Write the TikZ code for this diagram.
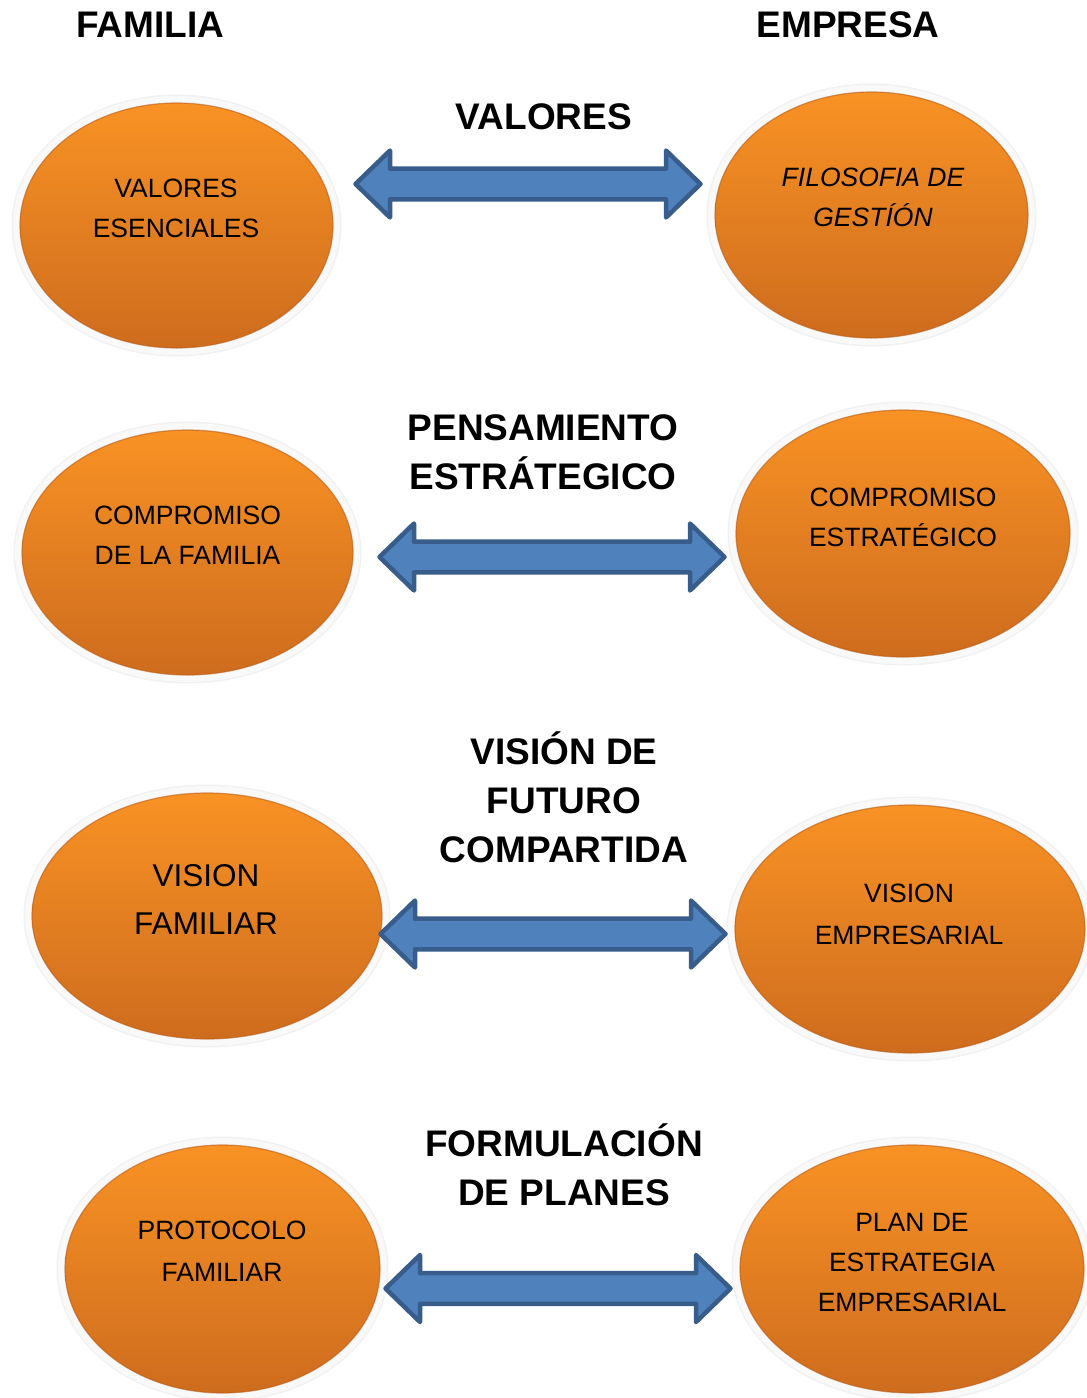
\documentclass[tikz,border=0pt]{standalone}
\usepackage{fontspec}
\setmainfont{Liberation Sans}
\usetikzlibrary{shapes.geometric,calc}
\definecolor{orTop}{RGB}{248,146,36}
\definecolor{orBot}{RGB}{206,108,30}
\definecolor{orRim}{RGB}{185,92,24}
\definecolor{arFill}{RGB}{79,129,189}
\definecolor{arLine}{RGB}{56,93,138}
\newcommand\dblarrow[2]{%
  \draw[blockarrow] (#1) -- ($(#1)+(34.5,-33.5)$) -- ($(#1)+(34.5,-15.3)$)
    -- ($(#2)+(-34.5,-15.3)$) -- ($(#2)+(-34.5,-33.5)$) -- (#2)
    -- ($(#2)+(-34.5,33.5)$) -- ($(#2)+(-34.5,15.3)$)
    -- ($(#1)+(34.5,15.3)$) -- ($(#1)+(34.5,33.5)$) -- cycle;}
\begin{document}
\begin{tikzpicture}[x=1pt,y=-1pt,
  ellip/.style={ellipse, inner sep=0pt, top color=orTop, bottom color=orBot,
    draw=orRim, draw opacity=0.6, line width=1.2pt,
    preaction={draw=black!9, line width=17pt},
    preaction={draw=white, line width=14pt}},
  etext/.style={align=center, inner sep=0pt, text=black,
    font=\fontsize{26.5}{40}\selectfont},
  title/.style={align=center, inner sep=0pt, text=black,
    font=\fontsize{37}{49}\selectfont\bfseries},
  blockarrow/.style={fill=arFill, draw=arLine, line width=4.5pt, line join=round}]
\useasboundingbox (0,0) rectangle (1087,1398);
\clip (0,0) rectangle (1087,1398);
\fill[white] (0,0) rectangle (1087,1398);

% headers
\node[title] (hfam) at (150,25) {FAMILIA};
\node[title] (hemp) at (848,25) {EMPRESA};

% category titles
\node[title] (c1) at (544,117) {VALORES};
\node[title] (c2) at (543,452) {PENSAMIENTO\\ESTRÁTEGICO};
\node[title] (c3) at (564,797) {VISIÓN DE\\FUTURO\\COMPARTIDA};
\node[title] (c4) at (564,1164.5) {FORMULACIÓN\\DE PLANES};

% ellipses
\node[ellip, minimum width=313, minimum height=245] (e1) at (176.5,225.5) {};
\node[ellip, minimum width=313, minimum height=246] (e2) at (871.5,215) {};
\node[ellip, minimum width=331, minimum height=245] (e3) at (187.5,552.5) {};
\node[ellip, minimum width=334, minimum height=247] (e4) at (903,533.5) {};
\node[ellip, minimum width=350, minimum height=246] (e5) at (207,916) {};
\node[ellip, minimum width=350, minimum height=248] (e6) at (910,929) {};
\node[ellip, minimum width=315, minimum height=248] (e7) at (222.5,1269) {};
\node[ellip, minimum width=344, minimum height=248] (e8) at (912,1269) {};

% ellipse texts
\node[etext] (t1) at (176,208) {VALORES\\ESENCIALES};
\node[etext, font=\fontsize{26.5}{40}\selectfont\itshape] (t2) at (873,197.5) {FILOSOFIA DE\\GESTÍÓN};
\node[etext] (t3) at (187.5,535) {COMPROMISO\\DE LA FAMILIA};
\node[etext] (t4) at (903,517) {COMPROMISO\\ESTRATÉGICO};
\node[etext, font=\fontsize{31.5}{48}\selectfont] (t5) at (206,899) {VISION\\FAMILIAR};
\node[etext, font=\fontsize{26.5}{42}\selectfont] (t6) at (909,914) {VISION\\EMPRESARIAL};
\node[etext, font=\fontsize{26.5}{42}\selectfont] (t7) at (222,1251) {PROTOCOLO\\FAMILIAR};
\node[etext] (t8) at (912,1262) {PLAN DE\\ESTRATEGIA\\EMPRESARIAL};

% arrows
\coordinate (a1L) at (355.5,184);
\coordinate (a1R) at (700.5,184);
\coordinate (a2L) at (379.5,557);
\coordinate (a2R) at (724.5,557);
\coordinate (a3L) at (380.5,934);
\coordinate (a3R) at (725.5,934);
\coordinate (a4L) at (385.5,1288.5);
\coordinate (a4R) at (730.5,1288.5);
\dblarrow{a1L}{a1R}
\dblarrow{a2L}{a2R}
\dblarrow{a3L}{a3R}
\dblarrow{a4L}{a4R}
\end{tikzpicture}
\end{document}
